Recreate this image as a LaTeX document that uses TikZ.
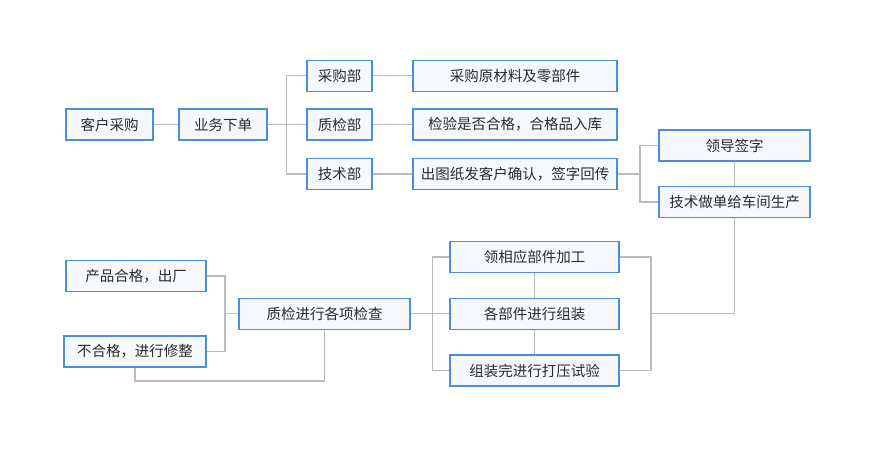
\documentclass[tikz,border=0pt]{standalone}
\usepackage{fontspec}
\setmainfont{Noto Sans CJK SC}
\usetikzlibrary{calc}
\definecolor{boxblue}{HTML}{4A8FDA}
\definecolor{boxfill}{HTML}{F5F9FE}
\definecolor{linegray}{HTML}{BBBBBB}
\definecolor{txt}{HTML}{2A2A2A}
\tikzset{
  box/.style={draw=boxblue, fill=boxfill, line width=1.2pt, minimum height=31pt,
    inner sep=0pt, text=txt, font=\fontsize{14.5pt}{16pt}\selectfont},
  conn/.style={draw=linegray, line width=1.3pt}
}
\begin{document}
\begin{tikzpicture}[x=1pt,y=-1pt]
\useasboundingbox (0,0) rectangle (879,471);
% top part
\node[box, minimum width=87pt] (kh) at (109.5,124.5) {客户采购};
\node[box, minimum width=88pt] (yw) at (223,124.5) {业务下单};
\node[box, minimum width=65pt] (cg) at (339.5,75.8) {采购部};
\node[box, minimum width=65pt] (zj) at (339.5,124.5) {质检部};
\node[box, minimum width=65pt] (js) at (339.5,174) {技术部};
\node[box, minimum width=204pt] (cgy) at (515,75.8) {采购原材料及零部件};
\node[box, minimum width=204pt] (jy) at (515,124.5) {检验是否合格，合格品入库};
\node[box, minimum width=204pt] (ct) at (515,174) {出图纸发客户确认，签字回传};
\node[box, minimum width=151pt] (ld) at (734.5,145.5) {领导签字};
\node[box, minimum width=151pt] (jszd) at (734.5,202) {技术做单给车间生产};
% bottom part
\node[box, minimum width=169pt] (lx) at (534.5,257) {领相应部件加工};
\node[box, minimum width=169pt] (gb) at (534.5,313.7) {各部件进行组装};
\node[box, minimum width=169pt] (zz) at (534.5,370.5) {组装完进行打压试验};
\node[box, minimum width=171pt] (zjjc) at (324.5,313.7) {质检进行各项检查};
\node[box, minimum width=140pt] (cp) at (136,276) {产品合格，出厂};
\node[box, minimum width=142pt] (bh) at (135,351.5) {不合格，进行修整};
% branch points
\coordinate (b1) at (286.7,124.5);
\coordinate (b2) at (640,174);
\coordinate (b3) at (432.3,313.7);
\coordinate (b4) at (651,313.7);
\coordinate (b5) at (225,313.7);
\draw[conn] (kh.east) -- (yw.west);
\draw[conn] (yw.east) -- (zj.west);
\draw[conn] (cg.west) -| (b1) |- (js.west);
\draw[conn] (cg.east) -- (cgy.west);
\draw[conn] (zj.east) -- (jy.west);
\draw[conn] (js.east) -- (ct.west);
\draw[conn] (ct.east) -- (b2);
\draw[conn] (ld.west) -| (b2) |- (jszd.west);
\draw[conn] (ld.south) -- (jszd.north);
\draw[conn] (jszd.south) |- (b4);
\draw[conn] (lx.east) -| (b4) |- (zz.east);
\draw[conn] (lx.south) -- (gb.north);
\draw[conn] (gb.south) -- (zz.north);
\draw[conn] (zjjc.east) -- (gb.west);
\draw[conn] (lx.west) -| (b3) |- (zz.west);
\draw[conn] (zjjc.west) -- (b5);
\draw[conn] (cp.east) -| (b5) |- (bh.east);
\draw[conn] (bh.south) -- ++(0,13.5) -| (zjjc.south);
\end{tikzpicture}
\end{document}
